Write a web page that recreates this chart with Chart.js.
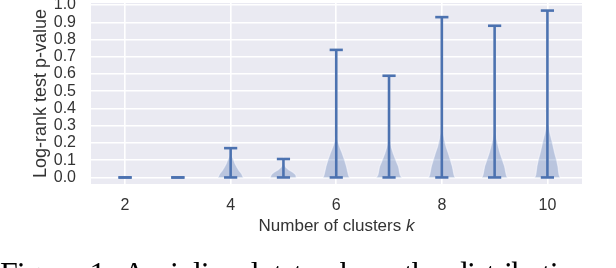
<!DOCTYPE html>
<html>
<head>
<meta charset="utf-8">
<script src="https://cdn.jsdelivr.net/npm/chart.js@4.4.0/dist/chart.umd.min.js"></script>
<style>
  html, body { margin: 0; padding: 0; background: #fff; }
  #wrap { position: relative; width: 616px; height: 268px; overflow: hidden; }
  #chart { position: absolute; left: 0; top: 0; }
  #caption {
    position: absolute; left: 0; top: 257px;
    font-family: "Liberation Serif", serif; font-size: 32px; line-height: 32px;
    white-space: nowrap; color: #000; letter-spacing: -1px; word-spacing: 5px;
  }
</style>
</head>
<body>
<div id="wrap">
  <canvas id="chart" width="616" height="268"></canvas>
  <div id="caption">Figure 1: A violin plot to show the distribution of the</div>
</div>
<script>
// number of clusters and the range of p-values for each one
const clusters = [2, 3, 4, 5, 6, 7, 8, 9, 10];
const pMin = [0, 0, 0, 0, 0, 0, 0, 0, 0];
const pMax = [0, 0, 0.17, 0.107, 0.74, 0.59, 0.93, 0.88, 0.968];

// violin outlines: p-values and half widths (in k units)
const violinP = [
  [],
  [],
  [0, 0.02, 0.04, 0.06, 0.08, 0.10, 0.12, 0.14, 0.17],
  [0, 0.01, 0.02, 0.03, 0.045, 0.06, 0.08, 0.107],
  [0, 0.016, 0.064, 0.10, 0.14, 0.18, 0.21, 0.25, 0.35, 0.5, 0.74],
  [0, 0.016, 0.064, 0.10, 0.14, 0.18, 0.22, 0.28, 0.4, 0.59],
  [0, 0.016, 0.064, 0.10, 0.14, 0.18, 0.22, 0.26, 0.3, 0.45, 0.7, 0.93],
  [0, 0.016, 0.064, 0.10, 0.14, 0.18, 0.22, 0.26, 0.32, 0.5, 0.88],
  [0, 0.016, 0.064, 0.10, 0.14, 0.18, 0.22, 0.26, 0.3, 0.38, 0.5, 0.7, 0.968]
];
const violinW = [
  [],
  [],
  [0.24, 0.21, 0.16, 0.12, 0.085, 0.06, 0.03, 0.012, 0.004],
  [0.25, 0.24, 0.22, 0.18, 0.10, 0.045, 0.012, 0.004],
  [0.25, 0.23, 0.195, 0.16, 0.114, 0.063, 0.03, 0.012, 0.006, 0.004, 0.002],
  [0.24, 0.21, 0.18, 0.13, 0.08, 0.04, 0.015, 0.007, 0.004, 0.002],
  [0.25, 0.23, 0.20, 0.165, 0.125, 0.08, 0.05, 0.025, 0.01, 0.005, 0.003, 0.002],
  [0.24, 0.22, 0.19, 0.15, 0.105, 0.07, 0.04, 0.02, 0.008, 0.004, 0.002],
  [0.24, 0.22, 0.20, 0.175, 0.14, 0.11, 0.08, 0.047, 0.025, 0.012, 0.006, 0.003, 0.002]
];

// tick labels
const xTicks = [2, 4, 6, 8, 10];
const yTicks = [0, 0.1, 0.2, 0.3, 0.4, 0.5, 0.6, 0.7, 0.8, 0.9, 1.0];

const blue = '#4c72b0';
const capHalf = 0.125;

const datasets = [];

clusters.forEach((k, i) => {
  // violin body as a closed shape
  if (violinP[i].length) {
    const right = violinP[i].map((p, j) => ({ x: k + violinW[i][j], y: p }));
    const left = violinP[i].map((p, j) => ({ x: k - violinW[i][j], y: p })).reverse();
    datasets.push({
      data: right.concat(left),
      showLine: true,
      fill: 'shape',
      backgroundColor: 'rgba(76, 114, 176, 0.3)',
      borderColor: 'rgba(250, 250, 255, 0.55)',
      borderWidth: 1.2,
      pointRadius: 0,
      order: 2
    });
  }

  // stem and the two caps
  const lines = [
    [{ x: k, y: pMin[i] }, { x: k, y: pMax[i] }],
    [{ x: k - capHalf, y: pMin[i] }, { x: k + capHalf, y: pMin[i] }],
    [{ x: k - capHalf, y: pMax[i] }, { x: k + capHalf, y: pMax[i] }]
  ];
  lines.forEach(pts => {
    datasets.push({
      data: pts,
      showLine: true,
      borderColor: blue,
      borderWidth: 2.6,
      borderCapStyle: 'butt',
      pointRadius: 0,
      fill: false,
      order: 1
    });
  });
});

// grey panel behind the plot, seaborn style
const panelBg = {
  id: 'panelBg',
  beforeDraw(chart) {
    const { ctx, chartArea: a } = chart;
    ctx.save();
    ctx.fillStyle = '#eaeaf2';
    ctx.fillRect(a.left, a.top, a.right - a.left, a.bottom - a.top);
    ctx.restore();
  }
};

// x title with an italic k
const xTitle = {
  id: 'xTitle',
  afterDraw(chart) {
    const { ctx, chartArea: a } = chart;
    const part1 = 'Number of clusters ';
    const part2 = 'k';
    ctx.save();
    ctx.fillStyle = '#333';
    ctx.textBaseline = 'middle';
    ctx.font = '17px "Liberation Sans", Arial, sans-serif';
    const w1 = ctx.measureText(part1).width;
    ctx.font = 'italic 17px "Liberation Sans", Arial, sans-serif';
    const w2 = ctx.measureText(part2).width;
    let x = (a.left + a.right) / 2 - (w1 + w2) / 2;
    const y = 226;
    ctx.font = '17px "Liberation Sans", Arial, sans-serif';
    ctx.fillText(part1, x, y);
    ctx.font = 'italic 17px "Liberation Sans", Arial, sans-serif';
    ctx.fillText(part2, x + w1, y);
    ctx.restore();
  }
};

const tickFont = { family: '"Liberation Sans", Arial, sans-serif', size: 16 };

new Chart(document.getElementById('chart'), {
  type: 'scatter',
  data: { datasets: datasets },
  options: {
    responsive: false,
    animation: false,
    layout: { padding: { top: 3, right: 34, bottom: 30, left: 0 } },
    plugins: {
      legend: { display: false },
      tooltip: { enabled: false }
    },
    scales: {
      x: {
        type: 'linear',
        min: 1.355,
        max: 10.655,
        afterBuildTicks: s => { s.ticks = xTicks.map(v => ({ value: v })); },
        afterFit: s => { s.height = 54; s.paddingLeft = 0; s.paddingRight = 0; },
        grid: { color: '#fff', lineWidth: 1.6, drawTicks: false },
        border: { display: false },
        ticks: { font: tickFont, color: '#333', padding: 12, maxRotation: 0, autoSkip: false }
      },
      y: {
        type: 'linear',
        min: -0.038,
        max: 1.012,
        afterBuildTicks: s => { s.ticks = yTicks.map(v => ({ value: v })); },
        afterFit: s => { s.width = 91; s.paddingTop = 0; s.paddingBottom = 0; },
        grid: { color: '#fff', lineWidth: 1.6, drawTicks: false },
        border: { display: false },
        ticks: { font: tickFont, color: '#333', padding: 15, autoSkip: false, callback: v => v.toFixed(1) },
        title: {
          display: true,
          text: 'Log-rank test p-value',
          color: '#333',
          font: { family: '"Liberation Sans", Arial, sans-serif', size: 18 },
          padding: { top: 30, bottom: 0 }
        }
      }
    }
  },
  plugins: [panelBg, xTitle]
});
</script>
</body>
</html>
